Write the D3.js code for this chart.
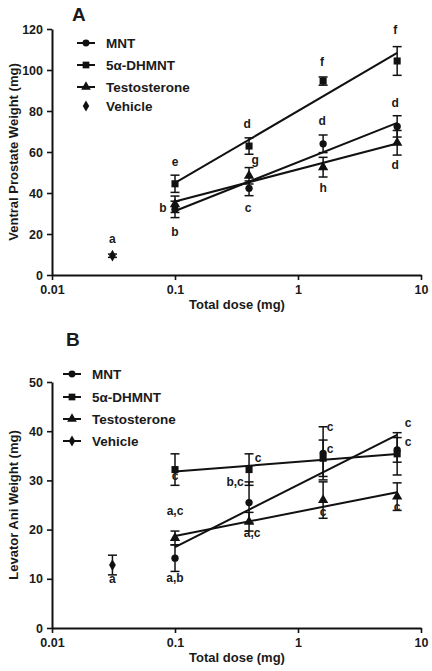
<!DOCTYPE html>
<html><head><meta charset="utf-8">
<script src="https://cdn.jsdelivr.net/npm/d3@7/dist/d3.min.js"></script>
<style>
body{margin:0;background:#fff;}
svg text{font-family:"Liberation Sans",Arial,sans-serif;font-weight:bold;fill:#1a1a1a;}
</style></head><body>
<svg id="c" width="432" height="671"></svg>
<script>
// ---------- data ----------
const seriesNames = ["MNT", "5\u03b1-DHMNT", "Testosterone", "Vehicle"];
const doses = [0.1, 0.4, 1.6, 6.4];
const vehicleDose = 0.031;
const xTicks = [0.01, 0.1, 1, 10];
const xTickLabels = ["0.01", "0.1", "1", "10"];

// Panel A: Ventral prostate weight (mg)
const mntA = [32, 42.3, 64, 72.5];
const mntAErr = [4, 3.6, 4.3, 5.2];
const dhmntA = [44.5, 62.9, 94.6, 104.4];
const dhmntAErr = [4.2, 4, 2, 7];
const testA = [34.5, 48.4, 52.6, 64.5];
const testAErr = [4, 4, 4.8, 6];
const vehicleA = 9.4;
const vehicleAErr = 0.8;
const yTicksA = [0, 20, 40, 60, 80, 100, 120];
// significance letters: [dose, value, text, dx]
const lettersA = [
  [0.1, 55.3, "e", 0], [0.1, 32.7, "b", -12], [0.1, 21, "b", 0],
  [0.4, 73.7, "d", -2], [0.4, 56.1, "g", 6], [0.4, 32.7, "c", -1],
  [1.6, 103.9, "f", -1], [1.6, 75.3, "d", -1], [1.6, 42.4, "h", 0],
  [6.4, 119.5, "f", -2], [6.4, 83.9, "d", -2], [6.4, 53.7, "d", -2],
  [vehicleDose, 17.6, "a", 0]
];

// Panel B: Levator ani weight (mg)
const mntB = [14.2, 25.5, 35.5, 36.2];
const mntBErr = [2.7, 4.2, 5.4, 2.5];
const dhmntB = [32.2, 32.2, 34.5, 35.4];
const dhmntBErr = [3.2, 3.2, 3.7, 4.3];
const testB = [18.3, 21.6, 26, 26.7];
const testBErr = [1.4, 1.9, 3.7, 2.8];
const vehicleB = 12.8;
const vehicleBErr = 2;
const yTicksB = [0, 10, 20, 30, 40, 50];
const lettersB = [
  [0.1, 31.0, "c", 0], [0.1, 23.9, "a,c", 0], [0.1, 10.2, "a,b", 0],
  [vehicleDose, 9.9, "a", 0],
  [0.4, 34.5, "c", 9], [0.4, 29.7, "b,c", -14], [0.4, 19.3, "a,c", 3],
  [1.6, 40.8, "c", 7], [1.6, 36.5, "c", 7], [1.6, 23.6, "c", 0],
  [6.4, 41.8, "c", 11], [6.4, 37.8, "c", 11], [6.4, 24.6, "c", 0]
];

// ---------- drawing ----------
const svg = d3.select("#c");
const ink = "#111";
const symbols = [d3.symbolCircle, d3.symbolSquare, d3.symbolTriangle, d3.symbolDiamond];
const symSize = [42, 50, 46, 40];

function regress(xs, ys) {
  const lx = xs.map(Math.log10);
  const mx = d3.mean(lx), my = d3.mean(ys);
  let sxy = 0, sxx = 0;
  lx.forEach((v, i) => { sxy += (v - mx) * (ys[i] - my); sxx += (v - mx) * (v - mx); });
  const b = sxy / sxx, a = my - b * mx;
  return d => a + b * Math.log10(d);
}

function panel(cfg) {
  const x = d3.scaleLog().domain([0.01, 10]).range([52, 421]);
  const y = d3.scaleLinear().domain([0, cfg.yMax]).range([cfg.bottom, cfg.top]);
  const g = svg.append("g");

  // axes
  const xa = g.append("g").attr("transform", `translate(0,${cfg.bottom})`)
    .call(d3.axisBottom(x).tickValues(xTicks).tickFormat((d, i) => xTickLabels[i]).tickSize(5).tickSizeOuter(0));
  const ya = g.append("g").attr("transform", `translate(52,0)`)
    .call(d3.axisLeft(y).tickValues(cfg.yTicks).tickSize(5).tickSizeOuter(0));
  [xa, ya].forEach(a => {
    a.select(".domain").attr("stroke", ink).attr("stroke-width", 2);
    a.selectAll(".tick line").attr("stroke", ink).attr("stroke-width", 1.6);
    a.selectAll(".tick text").attr("font-size", 12.5).attr("fill", "#1a1a1a")
      .attr("font-family", "Liberation Sans, Arial, sans-serif").attr("font-weight", "bold");
  });
  xa.selectAll(".tick text").attr("dy", "0.85em");
  ya.selectAll(".tick text").attr("dx", "-1px");

  g.append("text").attr("x", 237).attr("y", cfg.bottom + 34).attr("text-anchor", "middle")
    .attr("font-size", 13).text("Total dose (mg)");
  g.append("text").attr("transform", `translate(18,${(cfg.top + cfg.bottom) / 2}) rotate(-90)`)
    .attr("text-anchor", "middle").attr("font-size", 13).text(cfg.yLabel);
  g.append("text").attr("x", cfg.titleX).attr("y", cfg.titleY).attr("font-size", 19).text(cfg.title);

  // regression lines
  cfg.series.forEach(s => {
    const f = regress(doses, s.vals);
    g.append("line").attr("x1", x(doses[0])).attr("y1", y(f(doses[0])))
      .attr("x2", x(doses[3])).attr("y2", y(f(doses[3])))
      .attr("stroke", ink).attr("stroke-width", 2);
  });

  // error bars + markers
  const allPts = [];
  cfg.series.forEach((s, si) => s.vals.forEach((v, i) => allPts.push({d: doses[i], v, e: s.err[i], si})));
  allPts.push({d: vehicleDose, v: cfg.vehicle, e: cfg.vehicleErr, si: 3});
  allPts.forEach(p => {
    const cx = x(p.d);
    g.append("line").attr("x1", cx).attr("x2", cx).attr("y1", y(p.v - p.e)).attr("y2", y(p.v + p.e))
      .attr("stroke", ink).attr("stroke-width", 1.5);
    [p.v - p.e, p.v + p.e].forEach(c => g.append("line").attr("x1", cx - 4.5).attr("x2", cx + 4.5)
      .attr("y1", y(c)).attr("y2", y(c)).attr("stroke", ink).attr("stroke-width", 1.5));
  });
  allPts.forEach(p => {
    g.append("path").attr("d", d3.symbol(symbols[p.si], symSize[p.si])())
      .attr("transform", `translate(${x(p.d)},${y(p.v)})`).attr("fill", ink);
  });

  // letters
  cfg.letters.forEach(l => {
    g.append("text").attr("x", x(l[0]) + l[3]).attr("y", y(l[1])).attr("dy", "0.35em")
      .attr("text-anchor", "middle").attr("font-size", 12).text(l[2]);
  });

  // legend
  seriesNames.forEach((n, i) => {
    const ly = cfg.legY[i];
    if (i < 3 || cfg.vehicleLine) {
      g.append("line").attr("x1", cfg.legX - 9).attr("x2", cfg.legX + 9).attr("y1", ly).attr("y2", ly)
        .attr("stroke", ink).attr("stroke-width", 2);
    }
    g.append("path").attr("d", d3.symbol(symbols[i], symSize[i] * 0.9)())
      .attr("transform", `translate(${cfg.legX},${ly})`).attr("fill", ink);
    g.append("text").attr("x", cfg.legX + 20).attr("y", ly).attr("dy", "0.36em")
      .attr("font-size", 13.5).text(n);
  });
}

panel({
  top: 29, bottom: 275, yMax: 120, yTicks: yTicksA,
  yLabel: "Ventral Prostate Weight (mg)", title: "A", titleX: 72, titleY: 21,
  series: [{vals: mntA, err: mntAErr}, {vals: dhmntA, err: dhmntAErr}, {vals: testA, err: testAErr}],
  vehicle: vehicleA, vehicleErr: vehicleAErr, letters: lettersA,
  legX: 86, legY: [43, 65, 87, 106], vehicleLine: false
});
panel({
  top: 382, bottom: 628, yMax: 50, yTicks: yTicksB,
  yLabel: "Levator Ani Weight (mg)", title: "B", titleX: 66, titleY: 346,
  series: [{vals: mntB, err: mntBErr}, {vals: dhmntB, err: dhmntBErr}, {vals: testB, err: testBErr}],
  vehicle: vehicleB, vehicleErr: vehicleBErr, letters: lettersB,
  legX: 72, legY: [374, 397, 419, 441], vehicleLine: true
});
</script>
</body></html>
